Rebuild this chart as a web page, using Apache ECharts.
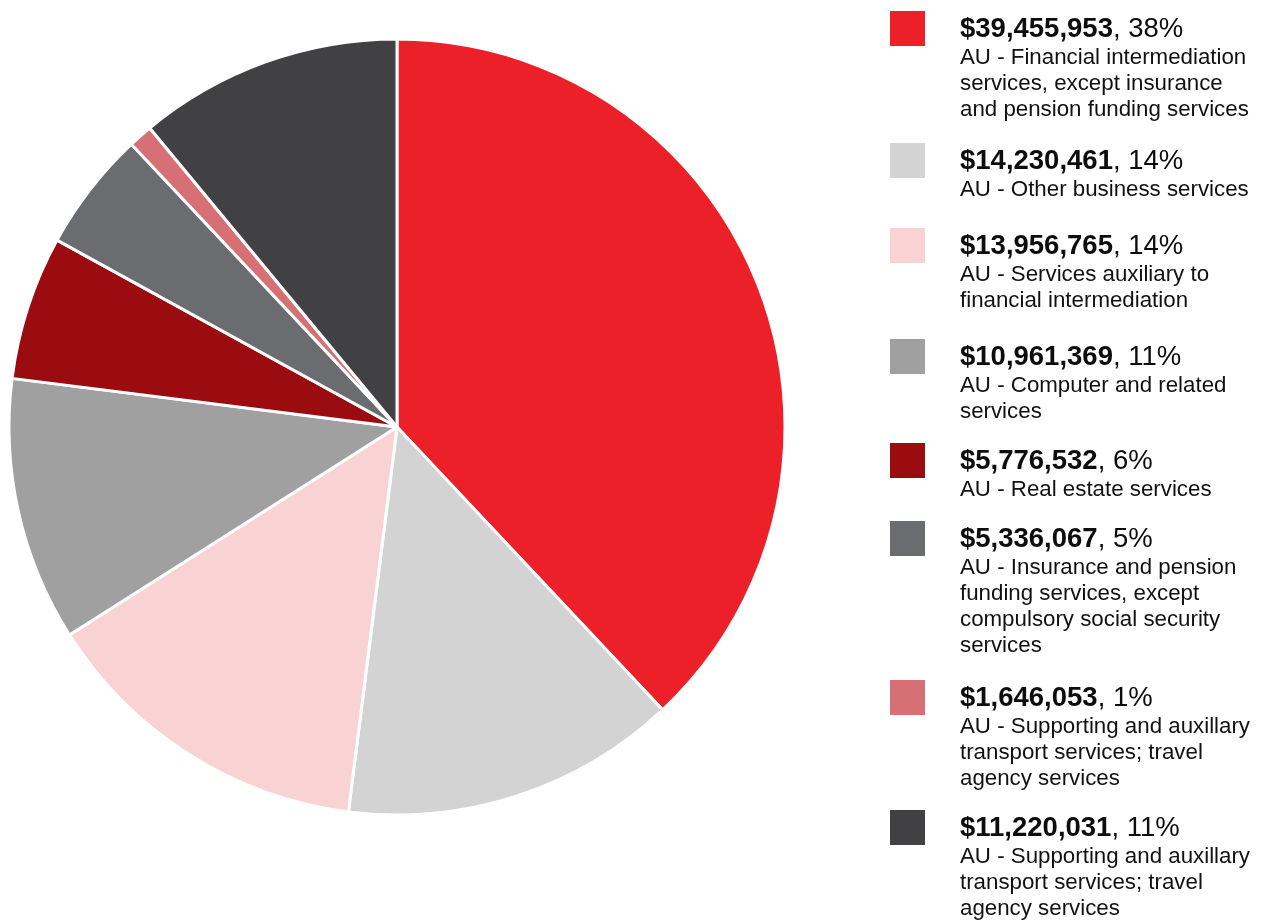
<!DOCTYPE html>
<html>
<head>
<meta charset="utf-8">
<script src="https://cdn.jsdelivr.net/npm/echarts@6/dist/echarts.min.js"></script>
<style>
html,body{margin:0;padding:0;background:#fff;}
#chart{width:1261px;height:920px;}
</style>
</head>
<body>
<div id="chart"></div>
<script>
const values = [39455953, 14230461, 13956765, 10961369, 5776532, 5336067, 1646053, 11220031];
const percents = [38, 14, 14, 11, 6, 5, 1, 11];
const valueLabels = ['$39,455,953', '$14,230,461', '$13,956,765', '$10,961,369', '$5,776,532', '$5,336,067', '$1,646,053', '$11,220,031'];
const categories = [
  'AU - Financial intermediation\nservices, except insurance\nand pension funding services',
  'AU - Other business services',
  'AU - Services auxiliary to\nfinancial intermediation',
  'AU - Computer and related\nservices',
  'AU - Real estate services',
  'AU - Insurance and pension\nfunding services, except\ncompulsory social security\nservices',
  'AU - Supporting and auxillary\ntransport services; travel\nagency services',
  'AU - Supporting and auxillary\ntransport services; travel\nagency services'
];
const colors = ['#EC2028', '#D3D3D3', '#F9D2D4', '#A0A0A0', '#9B0C10', '#6B6C70', '#D77074', '#414042'];

// layout (not data)
const legendTops = [11, 143, 228, 339, 443, 521, 680, 810];
const FONT = '"Liberation Sans", Arial, Helvetica, sans-serif';

const chart = echarts.init(document.getElementById('chart'), null, {renderer: 'canvas'});

const graphics = [];
legendTops.forEach((top, i) => {
  graphics.push({
    type: 'rect',
    left: 890, top: top,
    shape: {width: 35, height: 35},
    style: {fill: colors[i]}
  });
  const hc = top + 17;
  graphics.push({
    type: 'text',
    x: 960, y: hc + 1,
    style: {
      text: '{b|' + valueLabels[i] + '}{r|, ' + percents[i] + '%}',
      verticalAlign: 'middle',
      rich: {
        b: {fontFamily: FONT, fontSize: 27.5, fontWeight: 'bold', fill: '#0d0d0d'},
        r: {fontFamily: FONT, fontSize: 27.5, fontWeight: 'normal', fill: '#0d0d0d'}
      }
    }
  });
  graphics.push({
    type: 'text',
    x: 960, y: hc + 30 - 13,
    style: {
      text: categories[i],
      fontFamily: FONT,
      fontSize: 22.3,
      lineHeight: 26,
      fill: '#111',
      verticalAlign: 'top'
    }
  });
});

chart.setOption({
  animation: false,
  backgroundColor: '#fff',
  graphic: graphics,
  series: [{
    type: 'pie',
    center: [397, 427],
    radius: [0, 388],
    startAngle: 90,
    clockwise: true,
    label: {show: false},
    labelLine: {show: false},
    emphasis: {disabled: true},
    itemStyle: {borderColor: '#fff', borderWidth: 3},
    data: percents.map((p, i) => ({value: p, name: 'slice' + i + ' ' + values[i], itemStyle: {color: colors[i]}}))
  }]
});
</script>
</body>
</html>
